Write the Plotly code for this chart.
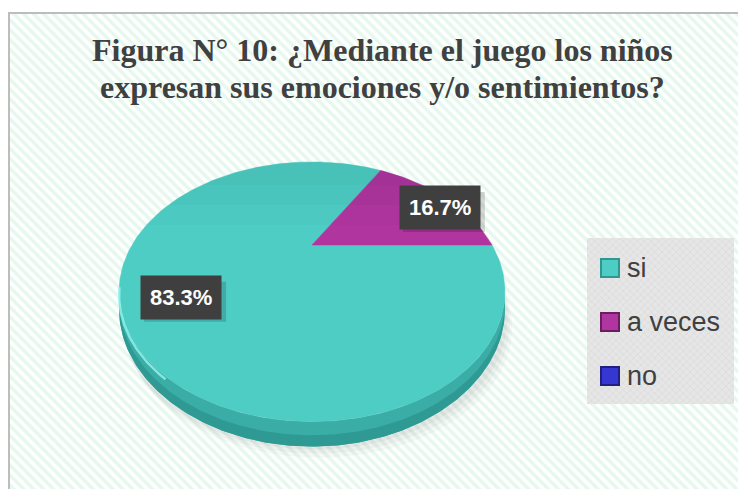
import math
import plotly.graph_objects as go

# ---------------- data ----------------
categories = ["si", "a veces", "no"]
values = [5, 1, 0]
slice_colors = ["#4ecdc5", "#b1359f", "#3636d2"]
legend_border = ["#2f9790", "#6a1e5f", "#20207e"]
title_lines = ["Figura N° 10: ¿Mediante el juego los niños",
               "expresan sus emociones y/o sentimientos?"]

# ---------------- geometry (pixel space of the page) ----------------
W, H = 746, 489
OFF = 8                    # default body margin of the page
cx, cy = 312, 245          # pie centre on the top face
rx, ry = 180, 113          # disc radii
k = 0.36                   # perspective factor
d0 = 16                    # disc thickness
start_deg = 0              # first slice starts at 3 o'clock, clockwise

def proj(r, t):
    u = r * math.cos(t)
    v = r * math.sin(t)
    den = 1 + k * v
    return cx + rx * u / den, cy - ry * v / den

def arc(t0, t1, n=200, r=1.0):
    return [proj(r, t0 + (t1 - t0) * i / n) for i in range(n + 1)]

def closed(pts):
    return [p[0] for p in pts] + [pts[0][0]], [p[1] for p in pts] + [pts[0][1]]

total = sum(values)
fig = go.Figure()

# background hatch
fig.add_trace(go.Scatter(
    x=[8, W + 5, W + 5, 8, 8], y=[14, 14, H + 5, H + 5, 14],
    mode="lines", line=dict(width=0), fill="toself", fillcolor="white",
    fillpattern=dict(shape="\\", fgcolor="#cef1de", bgcolor="white", size=7, solidity=0.5),
    hoverinfo="skip", showlegend=False))

# soft shadow
sh = arc(0, 2 * math.pi, 240)
for off, op in [(12, 0.05), (8, 0.06), (4, 0.07)]:
    fig.add_trace(go.Scatter(
        x=[p[0] + off * 0.6 for p in sh], y=[p[1] + d0 * 1.5 + off for p in sh],
        mode="lines", line=dict(width=0), fill="toself",
        fillcolor=f"rgba(120,120,120,{op})", hoverinfo="skip", showlegend=False))

# side of the disc (front arc)
a = math.asin(k)
front = arc(math.pi + a, 2 * math.pi - a, 200)
front_depth = ry / (1 - k)
def thick(p):
    rel = min(1, max(-1, (p[1] - cy) / front_depth))
    return d0 / (1 - k * rel)
bottom = [(p[0], p[1] + thick(p)) for p in front][::-1]
xs, ys = closed(front + bottom)
fig.add_trace(go.Scatter(x=xs, y=ys, mode="lines", line=dict(width=0), fill="toself",
                         fillcolor="#3aaea6", hoverinfo="skip", showlegend=False))
band_top = [(p[0], p[1] + thick(p) * 0.55) for p in front]
xs, ys = closed(band_top + bottom)
fig.add_trace(go.Scatter(x=xs, y=ys, mode="lines", line=dict(width=0), fill="toself",
                         fillcolor="#2f9a93", hoverinfo="skip", showlegend=False))

# top face slices
cum = 0.0
mids = []
for cat, val, col in zip(categories, values, slice_colors):
    frac = val / total
    t0 = math.radians(start_deg) - 2 * math.pi * cum
    t1 = t0 - 2 * math.pi * frac
    cum += frac
    mids.append((t0 + t1) / 2)
    if val <= 0:
        continue
    pts = [(cx, cy)] + arc(t0, t1, max(4, int(300 * frac)))
    xs, ys = closed(pts)
    fig.add_trace(go.Scatter(x=xs, y=ys, mode="lines", line=dict(width=0.5, color=col),
                             fill="toself", fillcolor=col, name=cat, hoverinfo="name",
                             showlegend=False))

# slightly darker back of the top face
back = arc(math.radians(0), math.radians(180), 150)
for i in range(3):
    cut = cy - 20 * (i + 1)
    sub = [(x, min(y, cut)) for x, y in back]
    xs, ys = closed(sub)
    fig.add_trace(go.Scatter(x=xs, y=ys, mode="lines", line=dict(width=0), fill="toself",
                             fillcolor="rgba(20,60,60,0.025)", hoverinfo="skip",
                             showlegend=False))

# rim highlight on the left front
hl = arc(math.radians(198), math.radians(235), 60)
fig.add_trace(go.Scatter(
    x=[p[0] for p in hl], y=[p[1] + 3 for p in hl], mode="lines",
    line=dict(width=2.5, color="rgba(150,245,240,0.8)"), hoverinfo="skip", showlegend=False))

# data labels
label_r = [0.72, 0.98, 0.9]
for val, t, r in zip(values, mids, label_r):
    if val <= 0:
        continue
    x, y = proj(r, t)
    y += 10 if r > 0.9 else 6
    x -= 2
    txt = f"{100 * val / total:.1f}%"
    fig.add_shape(type="rect", x0=x - 41 + 4, x1=x + 41 + 4, y0=y - 20 + 4, y1=y + 20 + 4,
                  fillcolor="rgba(0,0,0,0.16)", line=dict(width=0), layer="above")
    fig.add_annotation(x=x, y=y, text=f"<b>{txt}</b>", showarrow=False,
                       font=dict(family="Liberation Sans", size=22, color="white"),
                       bgcolor="#3f3f3f", borderpad=9)

# legend box
lx0, ly0, lx1, ly1 = 587, 238, 734, 404
fig.add_trace(go.Scatter(
    x=[lx0, lx1, lx1, lx0, lx0], y=[ly0, ly0, ly1, ly1, ly0],
    mode="lines", line=dict(width=0), fill="toself", fillcolor="#e2e2e2",
    fillpattern=dict(shape="x", fgcolor="#d0d0d0", bgcolor="#e6e6e6", size=5, solidity=0.3),
    hoverinfo="skip", showlegend=False))
leg_y = [268, 322, 376]
for cat, col, bc, yy in zip(categories, slice_colors, legend_border, leg_y):
    fig.add_shape(type="rect", x0=601, x1=619, y0=yy - 9, y1=yy + 9,
                  fillcolor=col, line=dict(color=bc, width=2))
    fig.add_annotation(x=625, y=yy, text=cat, showarrow=False, xanchor="left",
                       font=dict(family="Liberation Sans", size=27, color="#404040"))

# frame
fig.add_shape(type="rect", x0=9, y0=13, x1=W + 10, y1=H + 10,
              line=dict(color="#bdbdbd", width=2), fillcolor="rgba(0,0,0,0)")

# title (two lines, baselines ~63 and ~100)
for line, yb in zip(title_lines, [63, 100]):
    fig.add_annotation(x=382, y=yb + 7, yanchor="bottom", text=f"<b>{line}</b>",
                       showarrow=False,
                       font=dict(family="Liberation Serif", size=32, color="#404040"))

fig.update_layout(
    width=W - OFF, height=H - OFF, margin=dict(l=0, r=0, t=0, b=0),
    paper_bgcolor="white", plot_bgcolor="white",
    xaxis=dict(range=[OFF, W], visible=False, fixedrange=True),
    yaxis=dict(range=[H, OFF], visible=False, fixedrange=True),
    showlegend=False,
)
fig.write_html("out.html")
